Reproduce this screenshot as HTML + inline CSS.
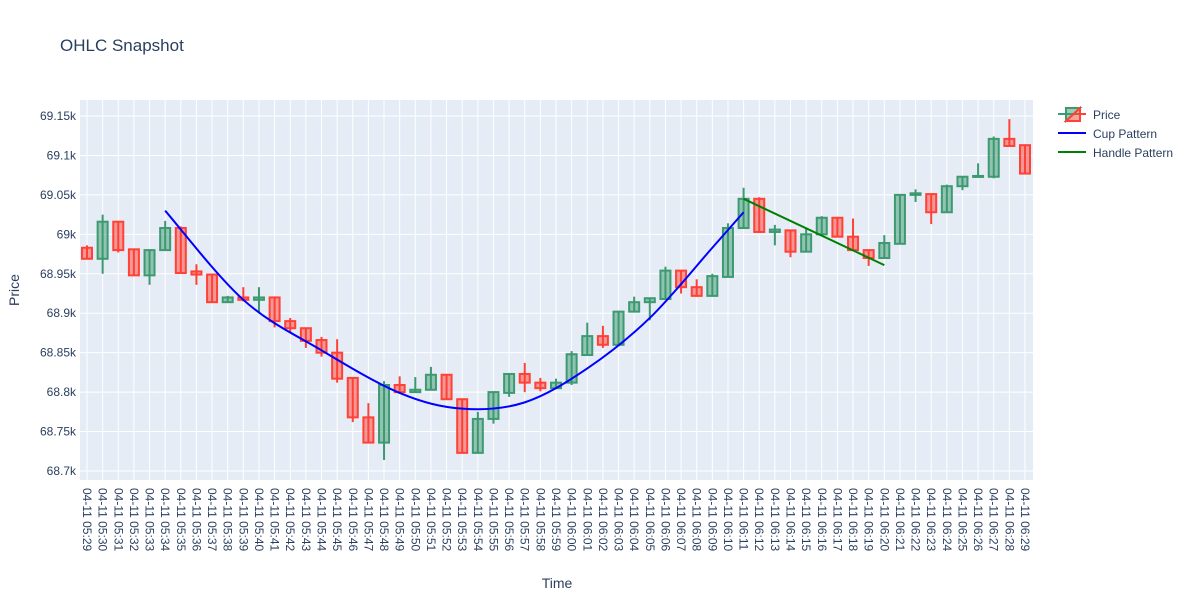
<!DOCTYPE html>
<html><head><meta charset="utf-8"><style>
body{margin:0;background:#fff;font-family:"Liberation Sans",sans-serif;}
svg text{font-family:"Liberation Sans",sans-serif;fill:#2a3f5f;}
</style></head><body>
<svg id="chart" width="1200" height="600" xmlns="http://www.w3.org/2000/svg">
<rect width="1200" height="600" fill="#fff"/>
<text x="60" y="51" font-size="17">OHLC Snapshot</text>
<rect x="80" y="100" width="953" height="380" fill="#E5ECF6"/>
<g id="grid"></g><g id="marks"></g><g id="axes"></g>
<text x="557" y="588" font-size="14" text-anchor="middle">Time</text>
<text transform="translate(19,290) rotate(-90)" font-size="14" text-anchor="middle">Price</text>
<g>
 <g>
  <line x1="1058" y1="114" x2="1086" y2="114" stroke="#3D9970" stroke-width="2"/>
  <polygon points="1066,108 1080,108 1066,121" fill="rgba(61,153,112,0.5)" stroke="#3D9970" stroke-width="2"/>
  <polygon points="1080,108 1080,121 1066,121" fill="rgba(255,65,54,0.5)" stroke="#FF4136" stroke-width="2"/>
  <line x1="1080" y1="114" x2="1086" y2="114" stroke="#FF4136" stroke-width="2"/>
  <text x="1093" y="119" font-size="12">Price</text>
 </g>
 <g>
  <line x1="1058" y1="133" x2="1086" y2="133" stroke="blue" stroke-width="2"/>
  <text x="1093" y="138" font-size="12">Cup Pattern</text>
 </g>
 <g>
  <line x1="1058" y1="152" x2="1086" y2="152" stroke="green" stroke-width="2"/>
  <text x="1093" y="157" font-size="12">Handle Pattern</text>
 </g>
</g>
</svg>
<script>
const opens=[68.983,68.969,69.016,68.981,68.948,68.980,69.008,68.953,68.949,68.914,68.920,68.917,68.920,68.890,68.881,68.866,68.850,68.818,68.768,68.736,68.809,68.800,68.803,68.822,68.791,68.723,68.766,68.799,68.823,68.812,68.805,68.812,68.847,68.871,68.860,68.902,68.914,68.918,68.954,68.933,68.922,68.946,69.008,69.045,69.003,69.005,68.978,69.000,69.021,68.997,68.980,68.970,68.988,69.050,69.051,69.028,69.061,69.073,69.073,69.121,69.113];
const highs=[68.986,69.025,69.016,68.981,68.981,69.017,69.010,68.962,68.950,68.922,68.933,68.933,68.921,68.894,68.881,68.870,68.867,68.818,68.786,68.814,68.820,68.819,68.832,68.822,68.792,68.775,68.801,68.823,68.837,68.818,68.817,68.852,68.888,68.884,68.903,68.921,68.919,68.959,68.954,68.943,68.950,69.014,69.059,69.047,69.012,69.005,69.007,69.023,69.021,69.020,68.980,68.999,69.050,69.057,69.051,69.063,69.073,69.090,69.124,69.146,69.113];
const lows=[68.968,68.950,68.977,68.948,68.936,68.980,68.950,68.936,68.914,68.914,68.915,68.900,68.882,68.875,68.856,68.845,68.812,68.762,68.736,68.714,68.798,68.800,68.803,68.790,68.722,68.722,68.760,68.794,68.800,68.801,68.805,68.809,68.847,68.856,68.858,68.901,68.891,68.917,68.925,68.921,68.921,68.946,69.008,69.003,68.986,68.971,68.978,69.000,68.997,68.980,68.960,68.969,68.988,69.041,69.013,69.028,69.056,69.073,69.071,69.111,69.077];
const closes=[68.969,69.016,68.980,68.948,68.980,69.008,68.951,68.949,68.914,68.920,68.917,68.920,68.890,68.881,68.865,68.850,68.817,68.768,68.736,68.809,68.800,68.803,68.822,68.791,68.723,68.766,68.800,68.823,68.812,68.805,68.812,68.848,68.871,68.860,68.902,68.914,68.919,68.954,68.933,68.922,68.947,69.008,69.045,69.003,69.006,68.978,69.000,69.021,68.997,68.980,68.970,68.989,69.050,69.052,69.028,69.061,69.073,69.074,69.121,69.112,69.077];
const cupIdx=[5,10,15,20,24,28,32,36,40,42];
const cupVals=[69.030,68.917,68.853,68.799,68.779,68.787,68.830,68.894,68.983,69.028];
const handleIdx=[42,51];
const handleVals=[69.045,68.961];
const yTicks=[68.7,68.75,68.8,68.85,68.9,68.95,69.0,69.05,69.1,69.15];
const yTickLabels=["68.7k","68.75k","68.8k","68.85k","68.9k","68.95k","69k","69.05k","69.1k","69.15k"];
const n=opens.length;
const labels=[];for(let i=0;i<n;i++){const m=29+i;const h=5+Math.floor(m/60);labels.push("04-11 0"+h+":"+String(m%60).padStart(2,"0"));}
const NS="http://www.w3.org/2000/svg";
const x=i=>87+i*(1025-87)/60;
const y=v=>471-(v-68.7)*788.9;
function mk(t,a,p){const e=document.createElementNS(NS,t);for(const k in a)e.setAttribute(k,a[k]);p.appendChild(e);return e;}
const grid=document.getElementById('grid'),marks=document.getElementById('marks'),axes=document.getElementById('axes');
for(let i=0;i<n;i++){const l=mk('line',{x1:x(i),x2:x(i),y1:100,y2:480,stroke:'#fff','stroke-width':1},grid);


const t=mk('text',{transform:`translate(${x(i)-4},488) rotate(90)`,'font-size':12},axes);t.textContent=labels[i];

}
yTicks.forEach((v,k)=>{const l=mk('line',{x1:80,x2:1033,y1:y(v),y2:y(v),stroke:'#fff','stroke-width':1},grid);


const t=mk('text',{x:76,y:y(v)+4,'font-size':12,'text-anchor':'end'},axes);t.textContent=yTickLabels[k];

});
for(let i=0;i<n;i++){const up=closes[i]>=opens[i];const c=up?'#3D9970':'#FF4136';const f=up?'rgba(61,153,112,0.5)':'rgba(255,65,54,0.5)';
const g=mk('g',{},marks);


mk('line',{x1:x(i),x2:x(i),y1:y(highs[i]),y2:y(lows[i]),stroke:c,'stroke-width':2},g);
const top=y(Math.max(opens[i],closes[i])),bot=y(Math.min(opens[i],closes[i]));
mk('rect',{x:x(i)-5,y:top,width:10,height:Math.max(bot-top,1),fill:f,stroke:c,'stroke-width':2},g);}
function smooth(px){let d=`M${px[0][0]},${px[0][1]}`;for(let i=0;i<px.length-1;i++){const p0=px[Math.max(i-1,0)],p1=px[i],p2=px[i+1],p3=px[Math.min(i+2,px.length-1)];
d+=` C${p1[0]+(p2[0]-p0[0])/6},${p1[1]+(p2[1]-p0[1])/6} ${p2[0]-(p3[0]-p1[0])/6},${p2[1]-(p3[1]-p1[1])/6} ${p2[0]},${p2[1]}`;}return d;}
const cup=mk('path',{d:smooth(cupIdx.map((c,k)=>[x(c),y(cupVals[k])])),fill:'none',stroke:'blue','stroke-width':2},marks);


const hd=mk('line',{x1:x(handleIdx[0]),y1:y(handleVals[0]),x2:x(handleIdx[1]),y2:y(handleVals[1]),stroke:'green','stroke-width':2},marks);


</script>
</body></html>
